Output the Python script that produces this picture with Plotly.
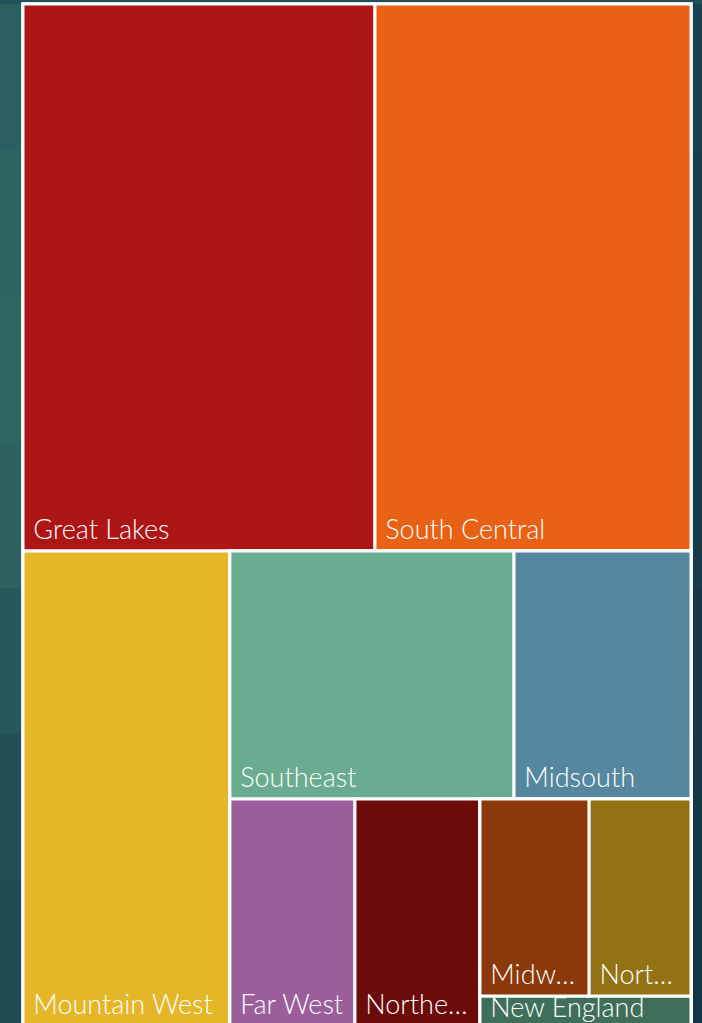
import plotly.graph_objects as go

# ---- data (leaf tiles) ----
regions = ["Great Lakes", "South Central", "Mountain West", "Southeast", "Midsouth",
           "Far West", "Northeast", "Midwest", "Northwest", "New England"]
shown_text = ["Great Lakes", "South Central", "Mountain West", "Southeast", "Midsouth",
              "Far West", "Northe…", "Midw…", "Nort…", "New England"]
values = [282.0, 253.2, 144.0, 103.2, 64.3, 41.6, 41.6, 31.5, 29.4, 9.3]
region_group = ["top", "top", "bottom", "mid_a", "mid_a",
                "mid_b", "mid_b", "small_a", "small_a", "small"]

# ---- layout grouping (invisible containers that drive the tiling) ----
group_ids = ["all", "top", "bottom", "mid", "mid_a", "mid_b", "small", "small_a"]
group_parents = ["", "all", "all", "bottom", "mid", "mid", "mid_b", "small"]

colors = ["#AE1515", "#E86114", "#E5B628", "#69AC90", "#55879E",
          "#9B5E9B", "#6B0C0A", "#8B390B", "#937213", "#3F6F58"]

FS = 27

ids, labels, parents, vals, texts, cols = [], [], [], [], [], []
for g, p in zip(group_ids, group_parents):
    ids.append(g); labels.append(""); parents.append(p); vals.append(0); texts.append(""); cols.append("#FFFFFF")
for r, t, v, g, c in zip(regions, shown_text, values, region_group, colors):
    ids.append(r); labels.append(r); parents.append(g); vals.append(v)
    if v < 20:  # tiny tile: label sits as low as possible
        texts.append("\u00a0" + t)
    else:
        texts.append("\u00a0" + t + "<span style='baseline-shift:-3px'>\u00a0</span>")
    cols.append(c)

order = ["all", "top", "Great Lakes", "South Central", "bottom", "Mountain West", "mid",
         "mid_a", "Southeast", "Midsouth", "mid_b", "Far West", "Northeast", "small",
         "small_a", "Midwest", "Northwest", "New England"]
idx = [ids.index(o) for o in order]
ids = [ids[i] for i in idx]; labels = [labels[i] for i in idx]; parents = [parents[i] for i in idx]
vals = [vals[i] for i in idx]; texts = [texts[i] for i in idx]; cols = [cols[i] for i in idx]

W, H = 702, 1030

fig = go.Figure(go.Treemap(
    ids=ids, labels=labels, parents=parents, values=vals, text=texts,
    branchvalues="remainder", sort=False,
    texttemplate="%{text}", textposition="bottom left",
    textfont=dict(family="Lato, DejaVu Sans, sans-serif", size=FS, color="#FFFFFF", weight=300),
    marker=dict(colors=cols, line=dict(color="#FFFFFF", width=3),
                pad=dict(t=0, l=0, r=0, b=0)),
    tiling=dict(packing="dice-slice", pad=0),
    pathbar=dict(visible=False),
    hoverinfo="skip",
))

# background gradient approximation (style only)
left_cols = ["#2C6060", "#2E6462", "#2F6662", "#2C6160", "#27585A", "#225056", "#1F4B52"]
right_cols = ["#1A4150", "#183F4E", "#173D4C", "#163B4A", "#153949", "#143848", "#133646"]
shapes = []
n = len(left_cols)
for i in range(n):
    y1 = 1 - i / n; y0 = 1 - (i + 1) / n
    shapes.append(dict(type="rect", xref="paper", yref="paper", x0=-0.1, x1=0.2, y0=y0, y1=y1,
                       fillcolor=left_cols[i], line=dict(width=0), layer="below"))
    shapes.append(dict(type="rect", xref="paper", yref="paper", x0=0.2, x1=1.1, y0=y0, y1=y1,
                       fillcolor=right_cols[i], line=dict(width=0), layer="below"))

fig.update_layout(
    width=W, height=H,
    margin=dict(l=23, r=11, t=4, b=4),
    paper_bgcolor="#22505A",
    shapes=shapes,
    showlegend=False,
    uniformtext=dict(minsize=FS, mode="show"),
)

fig.write_html("out.html", config={"displayModeBar": False},
               post_script="document.body.style.margin='0';document.body.style.overflow='hidden';document.documentElement.style.overflow='hidden';")
